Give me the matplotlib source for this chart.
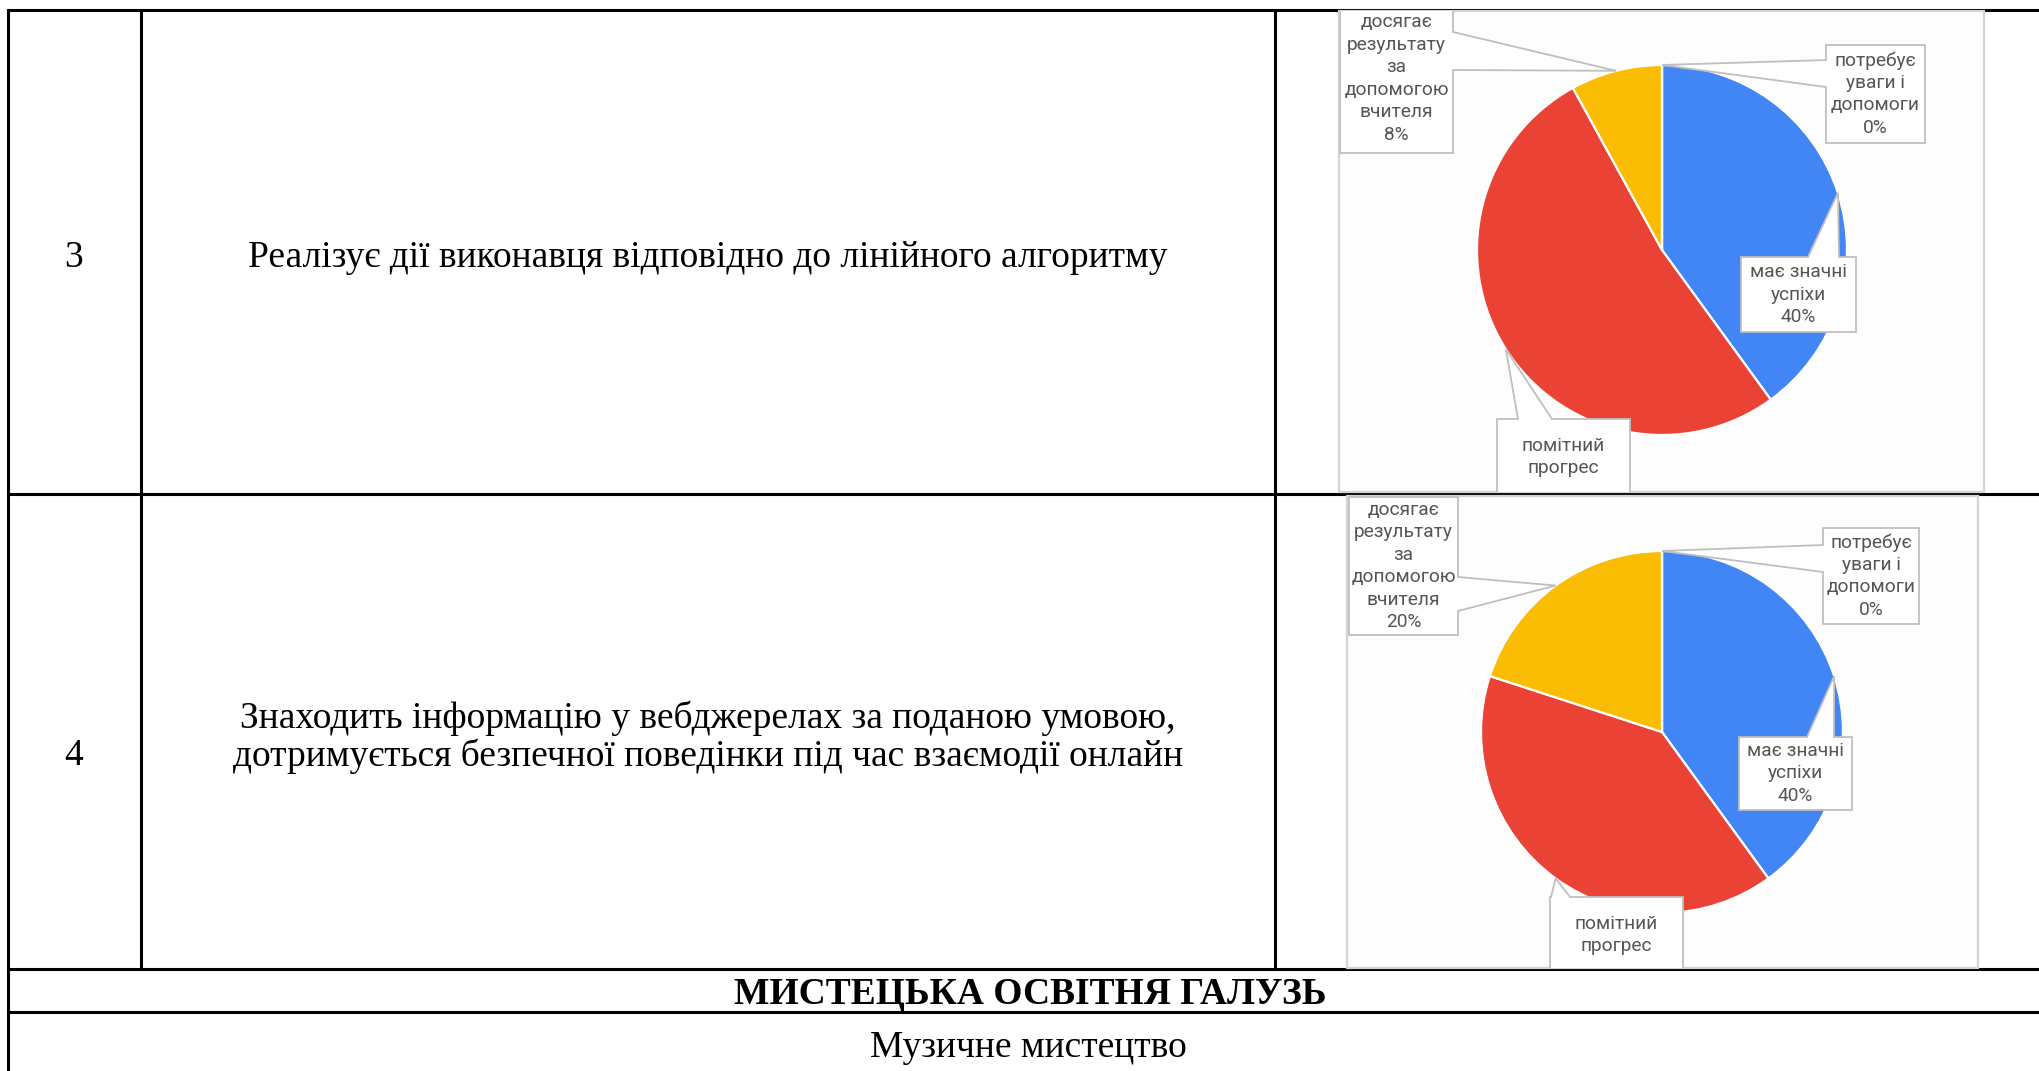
import matplotlib
matplotlib.use("Agg")
import matplotlib.pyplot as plt
from matplotlib.patches import Rectangle, Polygon
import numpy as np

W, H = 2040, 1071

# table content
row_numbers = ["3", "4"]
row_texts = ["Реалізує дії виконавця відповідно до лінійного алгоритму",
             "Знаходить інформацію у вебджерелах за поданою умовою,\n"
             "дотримується безпечної поведінки під час взаємодії онлайн"]
section_title = "МИСТЕЦЬКА ОСВІТНЯ ГАЛУЗЬ"
subsection_title = "Музичне мистецтво"

# pie data (percent of pupils)
categories = ["має значні\nуспіхи", "помітний\nпрогрес",
              "досягає\nрезультату\nза\nдопомогою\nвчителя",
              "потребує\nуваги і\nдопомоги"]
row3_values = [40, 52, 8, 0]
row4_values = [40, 40, 20, 0]
show_percent = [True, False, True, True]
slice_colors = ["#4285f4", "#ea4335", "#fbbc04", "#34a853"]

serif = "Liberation Serif"
label_font = "Roboto"
label_color = "#555555"
box_edge = "#bfbfbf"

fig = plt.figure(figsize=(W / 100, H / 100), dpi=100)
ax = fig.add_axes([0, 0, 1, 1])

# --- table grid ---
lw = 2.2
left, col1, col2 = 8, 141, 1275
top, row_sep, row_end, head_end = 10, 494, 969, 1012
ax.plot([left, W], [top, top], color="black", lw=lw, zorder=1)
ax.plot([left, W], [row_sep, row_sep], color="black", lw=lw, zorder=1)
ax.plot([left, W], [row_end, row_end], color="black", lw=lw, zorder=1)
ax.plot([left, W], [head_end, head_end], color="black", lw=lw, zorder=1)
ax.plot([left, left], [top, H], color="black", lw=lw, zorder=1)
ax.plot([col1, col1], [top, row_end], color="black", lw=lw, zorder=1)
ax.plot([col2, col2], [top, row_end], color="black", lw=lw, zorder=1)

num_y = [258, 756]
text_y = [258, 737]
for num, txt, ny, ty in zip(row_numbers, row_texts, num_y, text_y):
    ax.text(74, ny, num, family=serif, fontsize=27, ha="center", va="center")
    ax.text(708, ty, txt, family=serif, fontsize=27, ha="center", va="center",
            multialignment="center", linespacing=1.1)

ax.text(1030, 995, section_title, family=serif, fontsize=27, weight="bold",
        ha="center", va="center")
ax.text(1028, 1048, subsection_title, family=serif, fontsize=27,
        ha="center", va="center")


# --- embedded pie charts with callout labels ---
def callout_points(box, side, base, tip):
    x0, y0, x1, y1 = box
    if side == "top":
        return [(x0, y0), (base[0], y0), tip, (base[1], y0), (x1, y0), (x1, y1), (x0, y1)]
    if side == "right":
        return [(x0, y0), (x1, y0), (x1, base[0]), tip, (x1, base[1]), (x1, y1), (x0, y1)]
    return [(x0, y0), (x1, y0), (x1, y1), (x0, y1), (x0, base[1]), tip, (x0, base[0])]


charts = [
    dict(values=row3_values, frame=(1339, 11, 1984, 492), center=(1662, 250), radius=185,
         boxes=[((1741, 257, 1856, 332), "top", (1808, 1839)),
                ((1497, 419, 1630, 530), "top", (1518, 1552)),
                ((1340, 4, 1453, 153), "right", (32, 70)),
                ((1826, 45, 1925, 143), "left", (60, 87))]),
    dict(values=row4_values, frame=(1347, 496, 1978, 968), center=(1662, 732), radius=181,
         boxes=[((1739, 737, 1852, 810), "top", (1807, 1834)),
                ((1550, 897, 1683, 1000), "top", (1551, 1570)),
                ((1349, 497, 1458, 635), "right", (577, 611)),
                ((1823, 528, 1919, 624), "left", (545, 572))]),
]

for ch in charts:
    fx0, fy0, fx1, fy1 = ch["frame"]
    frame = Rectangle((fx0, fy0), fx1 - fx0, fy1 - fy0, facecolor="#fdfdfd",
                      edgecolor="#d4d4d4", lw=1.6, zorder=2)
    ax.add_patch(frame)
    # y axis is inverted, so start at -90 and go counterclockwise in data space
    wedges, _ = ax.pie(ch["values"], colors=slice_colors, center=ch["center"],
                       radius=ch["radius"], startangle=-90, counterclock=True,
                       frame=True, wedgeprops=dict(edgecolor="white", linewidth=1.6))
    for w in wedges:
        w.set_zorder(3)
        w.set_clip_path(frame)
    for i, (box, side, base) in enumerate(ch["boxes"]):
        w = wedges[i]
        mid = np.deg2rad((w.theta1 + w.theta2) / 2)
        tip = (w.center[0] + w.r * np.cos(mid), w.center[1] + w.r * np.sin(mid))
        poly = Polygon(callout_points(box, side, base, tip), closed=True,
                       facecolor="white", edgecolor=box_edge, lw=1.3, zorder=4)
        ax.add_patch(poly)
        poly.set_clip_path(frame)
        label = categories[i]
        if show_percent[i]:
            label += "\n%d%%" % ch["values"][i]
            ty = (box[1] + box[3]) / 2
        else:
            ty = box[1] + 38
        t = ax.text((box[0] + box[2]) / 2, ty, label, family=label_font, fontsize=13.8,
                    color=label_color, ha="center", va="center", linespacing=1.32,
                    zorder=5)
        t.set_clip_path(frame)

ax.set_xlim(0, W)
ax.set_ylim(H, 0)
ax.set_aspect("auto")
ax.axis("off")

fig.savefig("out.png", dpi=100, facecolor="white")
